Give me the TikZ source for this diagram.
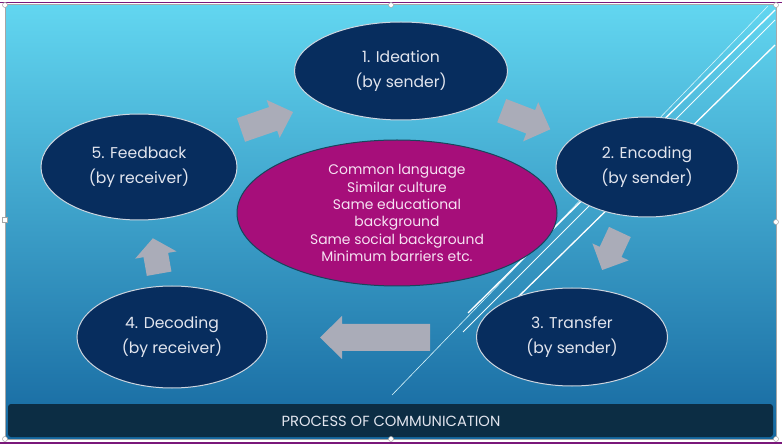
\documentclass[tikz,border=0pt]{standalone}
\usepackage{fontspec}
\setmainfont{Poppins}
\usetikzlibrary{shapes.geometric}
\definecolor{slidetop}{RGB}{98,214,240}
\definecolor{slidemid}{RGB}{62,170,212}
\definecolor{slidebot}{RGB}{22,104,160}
\definecolor{stepblue}{RGB}{7,45,94}
\definecolor{hubmagenta}{RGB}{166,14,122}
\definecolor{hubedge}{RGB}{22,70,92}
\definecolor{arrowgray}{RGB}{170,172,184}
\definecolor{barblue}{RGB}{12,45,68}
\definecolor{framepurple}{RGB}{122,24,122}
\definecolor{textgray}{RGB}{226,229,238}
\definecolor{hubtext}{RGB}{246,226,242}

\begin{document}
\begin{tikzpicture}[x=1pt, y=-1pt,
	stage/.style={ellipse, draw=white!80!stepblue, line width=1pt, fill=stepblue, text=textgray, inner sep=0pt, align=center, font=\fontsize{15.6}{25}\selectfont},
	hub/.style={ellipse, draw=hubedge, line width=1pt, fill=hubmagenta, text=hubtext, inner sep=0pt, align=center, font=\fontsize{13.9}{17.3}\selectfont}]
		\useasboundingbox (0,0) rectangle (782,446);
		\fill[white] (0,0) rectangle (782,446);
		\draw[framepurple, line width=1.2pt] (0,2.5) -- (782,2.5);
		\draw[framepurple, line width=1.2pt] (0,443) -- (782,443);
		\shade[top color=slidetop, middle color=slidemid, bottom color=slidebot] (5,5) rectangle (776,439);
		\draw[gray!70, line width=1pt] (5,5) rectangle (776,439);
		
		\draw[white!75!slidetop, line width=0.6pt] (768,6) -- (392,395);
		\draw[white, line width=1.3pt] (775,10) -- (468,313);
		\draw[white!90!slidetop, line width=0.8pt] (775,20) -- (463,332);
		\draw[white, line width=1.3pt] (775,45) -- (515,300);
		
		\foreach \x/\y/\a/\l/\w/\h/\k in {267/121/19/55/12.5/20/21, 526/120/-21/52/12.5/21/21, 611/251/-115/42/12/20/20, 375/337.5/180/110/13.5/21.5/22, 156/256/100/36/12.5/21/17}
		{
			\fill[arrowgray, shift={(\x,\y)}, rotate=\a] (-\l/2,-\w) -- (\l/2-\k,-\w) -- (\l/2-\k,-\h) -- (\l/2,0) -- (\l/2-\k,\h) -- (\l/2-\k,\w) -- (-\l/2,\w) -- cycle;
		}
		
		\node[stage, minimum width=213pt, minimum height=98pt] (ideation) at (401,71) {1. Ideation\\(by sender)};
		\node[stage, minimum width=182pt, minimum height=100pt] (encoding) at (647,167) {2. Encoding\\(by sender)};
		\node[stage, minimum width=191pt, minimum height=98pt] (transfer) at (572,337) {3. Transfer\\(by sender)};
		\node[stage, minimum width=190pt, minimum height=102pt] (decoding) at (172,337) {4. Decoding\\(by receiver)};
		\node[stage, minimum width=196pt, minimum height=106pt] (feedback) at (139,167) {5. Feedback\\(by receiver)};
		\node[hub, minimum width=320pt, minimum height=146pt] (common) at (397,213) {Common language\\Similar culture\\Same educational\\background\\Same social background\\Minimum barriers etc.};
		
		\fill[barblue, rounded corners=3pt] (8,404) rectangle (773,437);
		\node[text=textgray, font=\fontsize{14.7}{17}\selectfont] (title) at (391,421) {PROCESS OF COMMUNICATION};
		
		\foreach \x/\y in {5/5, 391/5, 776/5, 5/439, 391/439, 776/439, 776/222}
		{
			\draw[gray!70, fill=white, line width=0.5pt] (\x,\y) circle (2.5pt);
		}
		\draw[gray!70, fill=white, line width=0.5pt] (2.5,217.5) rectangle (7.5,222.5);
	\end{tikzpicture}
\end{document}
